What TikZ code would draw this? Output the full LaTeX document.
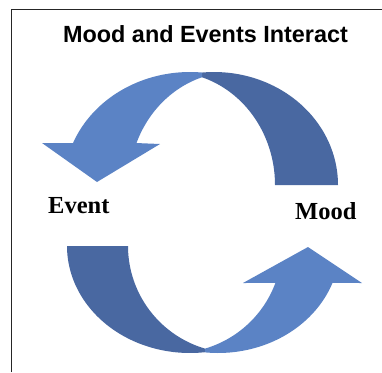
\documentclass[tikz,border=0pt]{standalone}
\usepackage{fontspec}
\setmainfont{Liberation Serif}
\newfontfamily\headfont{Liberation Sans}
\definecolor{arrowlight}{RGB}{91,131,197}
\definecolor{arrowdark}{RGB}{73,104,161}
\tikzset{
  frontpart/.style = {fill=arrowlight},
  backpart/.style = {fill=arrowdark},
  lbl/.style = {inner sep=0pt, font=\bfseries\fontsize{24.5}{28}\selectfont}
}

\begin{document}
\begin{tikzpicture}[x=1pt, y=-1pt]
\useasboundingbox (0,0) rectangle (382,372);
\draw[line width=1.5pt, black!85] (11.5,372) -- (11.5,9.5) -- (382,9.5);

\node[inner sep=0pt, anchor=base, font=\headfont\bfseries\fontsize{23.4}{28}\selectfont] (title) at (205.5,42) {Mood and Events Interact};

% upper arrow
\fill[backpart] plot[domain=0:95.6, samples=40, smooth] ({214+124*cos(\x)},{185-113*sin(\x)})
  -- plot[domain=72.5:0, samples=40, smooth] ({170.5+104.5*cos(\x)},{185-113*sin(\x)}) -- cycle;
\fill[frontpart] plot[domain=84.5:158.2, samples=40, smooth] ({190+126*cos(\x)},{185-113*sin(\x)})
  -- (42,143) -- (97,182) -- (160,144)
  -- plot[domain=158.2:107.5, samples=40, smooth] ({233.5+104.5*cos(\x)},{185-113*sin(\x)}) -- cycle;

% lower arrow
\fill[backpart] plot[domain=180:83, samples=40, smooth] ({190+123*cos(\x)},{246+107*sin(\x)})
  -- plot[domain=106.5:180, samples=40, smooth] ({235.5+107.5*cos(\x)},{246+107*sin(\x)}) -- cycle;
\fill[frontpart] plot[domain=73.5:20.2, samples=40, smooth] ({174.5+107.5*cos(\x)},{246+107*sin(\x)})
  -- (243,283) -- (308,247) -- (362,283)
  -- plot[domain=20.2:96.1, samples=40, smooth] ({218+122*cos(\x)},{246+107*sin(\x)}) -- cycle;

\node[lbl, anchor=base west] (event) at (48,213) {Event};
\node[lbl, anchor=base west] (mood) at (295,219) {Mood};
\end{tikzpicture}
\end{document}
